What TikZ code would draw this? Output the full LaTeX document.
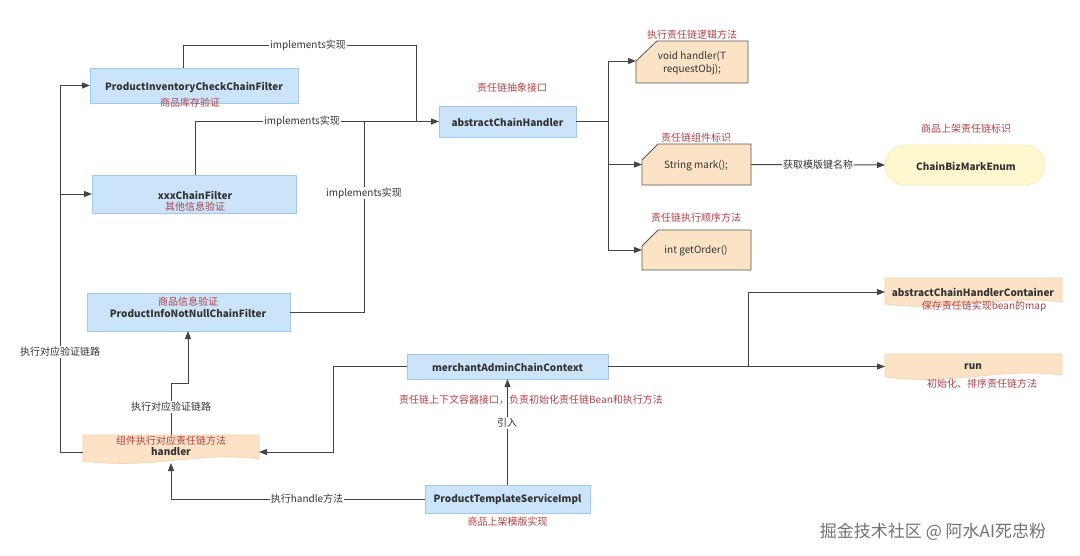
\documentclass[tikz,border=0pt]{standalone}
\usepackage{fontspec}
\setmainfont{Noto Sans CJK SC}
\usetikzlibrary{arrows.meta,calc}
\definecolor{bluefill}{HTML}{CCE4FA}
\definecolor{blueline}{HTML}{A2C8EA}
\definecolor{peach}{HTML}{FCE3C6}
\definecolor{peachline}{HTML}{F3D2AE}
\definecolor{cardline}{HTML}{555555}
\definecolor{yel}{HTML}{FFF8CE}
\definecolor{yelline}{HTML}{F7EDBC}
\definecolor{redt}{HTML}{AE4246}
\definecolor{txt}{HTML}{333333}
\definecolor{ln}{HTML}{444444}
\begin{document}
\begin{tikzpicture}[x=1pt,y=-1pt,
  every node/.style={inner sep=0pt,outer sep=0pt},
  bluebox/.style={draw=blueline,fill=bluefill,line width=0.8pt,rectangle},
  hold/.style={rectangle,draw=none},
  pill/.style={draw=yelline,fill=yel,line width=0.8pt,rounded corners=20pt},
  cardshape/.style={draw=cardline,fill=peach,line width=0.8pt},
  docshape/.style={draw=peachline,fill=peach,line width=0.6pt},
  btxt/.style={font=\fontsize{10}{12}\selectfont\bfseries,text=txt},
  ntxt/.style={font=\fontsize{10}{13}\selectfont,text=txt,align=center},
  rtxt/.style={font=\fontsize{10}{12}\selectfont,text=redt},
  lbl/.style={font=\fontsize{10}{12}\selectfont,text=txt,fill=white,inner xsep=1pt,inner ysep=1pt},
  line/.style={draw=ln,line width=1pt},
  arr/.style={line,-{Triangle[length=8pt,width=6pt]}}]
\useasboundingbox (0,0) rectangle (1080,555);
\fill[white] (0,0) rectangle (1080,555);

% ---------- boxes ----------
\node[bluebox,minimum width=208pt,minimum height=35pt] (pic) at (194,85.5) {};
\node[bluebox,minimum width=204pt,minimum height=38pt] (xxx) at (194,194) {};
\node[bluebox,minimum width=203pt,minimum height=38pt] (info) at (188.5,312) {};
\node[bluebox,minimum width=137pt,minimum height=31pt] (ach) at (507.5,121.5) {};
\node[bluebox,minimum width=201pt,minimum height=25pt] (mac) at (507.5,366.5) {};
\node[bluebox,minimum width=165pt,minimum height=28pt] (pts) at (507.5,499) {};
\node[pill,minimum width=160pt,minimum height=40pt] (cbe) at (965,165) {};

\node[hold,minimum width=112pt,minimum height=42pt] (vh) at (692,62) {};
\node[hold,minimum width=109pt,minimum height=41pt] (sm) at (696.5,164.5) {};
\node[hold,minimum width=109pt,minimum height=40pt] (go) at (696.5,250) {};
\node[hold,minimum width=176pt,minimum height=28pt] (hd) at (171,449) {};
\node[hold,minimum width=177pt,minimum height=28pt] (acc) at (973.5,292) {};
\node[hold,minimum width=177pt,minimum height=25pt] (run) at (973.5,366.5) {};

% card shapes (cut top-left corner)
\path[cardshape] ($(vh.north west)+(21,0)$) -- (vh.north east) -- (vh.south east) -- (vh.south west) -- ($(vh.north west)+(0,20)$) -- cycle;
\path[cardshape] ($(sm.north west)+(16,0)$) -- (sm.north east) -- (sm.south east) -- (sm.south west) -- ($(sm.north west)+(0,16)$) -- cycle;
\path[cardshape] ($(go.north west)+(16,0)$) -- (go.north east) -- (go.south east) -- (go.south west) -- ($(go.north west)+(0,16)$) -- cycle;

% document shapes (wavy bottom)
\foreach \n/\w in {hd/176,acc/177,run/177}{
  \path[docshape] (\n.north west) -- (\n.north east) -- ($(\n.south east)+(0,-4)$)
    .. controls ($(\n.south east)+(-0.35*\w,-12)$) and ($(\n.south west)+(0.4*\w,7)$) .. ($(\n.south west)+(0,-2)$) -- cycle;
}

% ---------- connectors ----------
\coordinate (j1) at (416,45);
\draw[line] ($(pic.north west)+(93,0)$) |- (j1) -- (j1 |- ach.west);
\draw[arr] ($(xxx.north west)+(103,0)$) |- (ach.west);
\draw[line] (info.east) -| (364,121.5);

\draw[arr] (ach.east) -- ++(32,0) |- ($(vh.north west)+(0,20)$);
\draw[arr] (ach.east) -- ++(32,0) |- (sm.west);
\draw[arr] (ach.east) -- ++(32,0) |- (go.west);
\draw[arr] (sm.east) -- (cbe.west);

\draw[arr] ($(hd.west)+(0,3)$) -- ++(-23,0) |- (pic.west);
\draw[arr] ($(hd.west)+(0,3)$) -- ++(-23,0) |- (xxx.west);
\draw[arr] (hd.north) -- ++(0,-52) -| ($(info.south west)+(101,0)$);

\draw[arr] (mac.west) -- ++(-74,0) |- ($(hd.east)+(0,3)$);
\draw[arr] (pts.west) -| (hd.south);
\draw[arr] (pts.north) -- (mac.south);
\draw[arr] (mac.east) -- (run.west);
\draw[arr] (mac.east) -- ++(140,0) |- (acc.west);

% ---------- connector labels ----------
\node[lbl] (l1) at (308,45) {implements实现};
\node[lbl] (l2) at (302,121.5) {implements实现};
\node[lbl] (l3) at (364,193) {implements实现};
\node[lbl] (l4) at (818,165) {获取模版键名称};
\node[lbl] (l5) at (60,352) {执行对应验证链路};
\node[lbl] (l6) at (171,407) {执行对应验证链路};
\node[lbl] (l7) at (507,423) {引入};
\node[lbl] (l8) at (307,499) {执行handle方法};

% ---------- texts ----------
\node[btxt] (t1) at (194,87) {ProductInventoryCheckChainFilter};
\node[rtxt] (r1) at (190,103) {商品库存验证};
\node[btxt] (t2) at (195,195) {xxxChainFilter};
\node[rtxt] (r2) at (195,207) {其他信息验证};
\node[rtxt] (r3) at (188,302) {商品信息验证};
\node[btxt] (t3) at (188,313) {ProductInfoNotNullChainFilter};
\node[btxt] (t4) at (507.5,122) {abstractChainHandler};
\node[rtxt] (r4) at (512,88) {责任链抽象接口};
\node[ntxt] (t5) at (692,63) {void handler(T\\requestObj);};
\node[rtxt] (r5) at (692,35) {执行责任链逻辑方法};
\node[ntxt] (t6) at (696,166) {String mark();};
\node[rtxt] (r6) at (696,138) {责任链组件标识};
\node[ntxt] (t7) at (696,251) {int getOrder()};
\node[rtxt] (r7) at (696,218) {责任链执行顺序方法};
\node[btxt] (t8) at (966,166) {ChainBizMarkEnum};
\node[rtxt] (r8) at (966,129) {商品上架责任链标识};
\node[btxt] (t9) at (973,292) {abstractChainHandlerContainer};
\node[rtxt] (r9) at (984,306) {保存责任链实现bean的map};
\node[btxt] (t10) at (973,367) {run};
\node[rtxt] (r10) at (982,384) {初始化、排序责任链方法};
\node[rtxt] (r11) at (171,441) {组件执行对应责任链方法};
\node[btxt] (t11) at (171,452) {handler};
\node[btxt] (t12) at (507.5,367) {merchantAdminChainContext};
\node[rtxt] (r12) at (531,400) {责任链上下文容器接口，负责初始化责任链Bean和执行方法};
\node[btxt] (t13) at (507.5,499) {ProductTemplateServiceImpl};
\node[rtxt] (r13) at (507.5,522) {商品上架模版实现};

\node[font=\fontsize{17}{20}\selectfont,text=black!55] (wm) at (933,532) {掘金技术社区 @ 阿水AI死忠粉};
\end{tikzpicture}
\end{document}
